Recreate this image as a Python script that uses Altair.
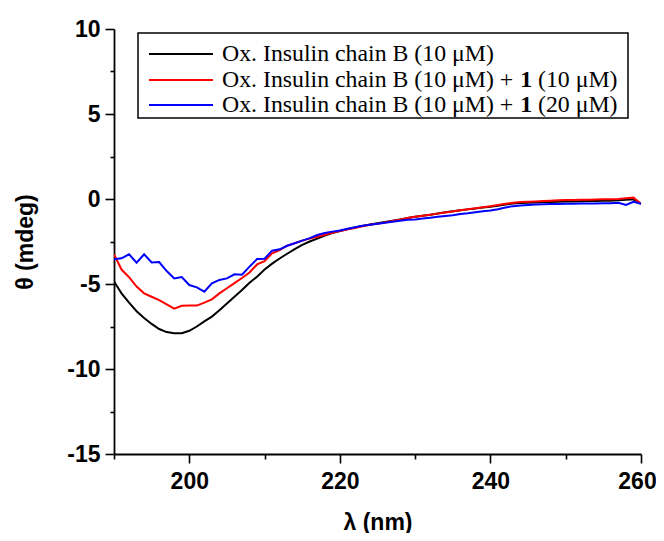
import altair as alt
import pandas as pd

# ---------------- data ----------------
wavelength = list(range(190, 261))

black = [-4.85, -5.55, -6.10, -6.60, -7.00, -7.35, -7.65, -7.83, -7.90, -7.90,
         -7.75, -7.50, -7.20, -6.92, -6.55, -6.15, -5.75, -5.35, -4.93, -4.57,
         -4.15, -3.80, -3.50, -3.22, -2.95, -2.70, -2.50, -2.33, -2.15, -2.00,
         -1.88, -1.78, -1.68, -1.58, -1.50, -1.42, -1.35, -1.28, -1.20, -1.12,
         -1.05, -0.98, -0.92, -0.85, -0.78, -0.72, -0.66, -0.61, -0.56, -0.50,
         -0.45, -0.40, -0.33, -0.27, -0.24, -0.22, -0.20, -0.18, -0.17, -0.16,
         -0.15, -0.14, -0.13, -0.12, -0.12, -0.11, -0.10, -0.08, -0.05, -0.02,
         -0.28]

red = [-3.25, -4.15, -4.60, -5.15, -5.55, -5.75, -5.95, -6.20, -6.45, -6.28,
       -6.27, -6.27, -6.10, -5.90, -5.55, -5.25, -4.95, -4.65, -4.32, -3.85,
       -3.65, -3.20, -3.00, -2.75, -2.60, -2.45, -2.33, -2.22, -2.10, -1.98,
       -1.88, -1.78, -1.70, -1.60, -1.52, -1.45, -1.38, -1.30, -1.22, -1.12,
       -1.05, -0.98, -0.92, -0.86, -0.80, -0.73, -0.66, -0.60, -0.55, -0.48,
       -0.42, -0.35, -0.28, -0.22, -0.18, -0.16, -0.14, -0.12, -0.10, -0.08,
       -0.06, -0.06, -0.05, -0.04, -0.03, -0.02, -0.01, 0.00, 0.05, 0.08,
       -0.28]

blue = [-3.55, -3.49, -3.25, -3.75, -3.25, -3.73, -3.71, -4.24, -4.67, -4.59,
        -5.06, -5.20, -5.45, -4.96, -4.76, -4.67, -4.43, -4.45, -3.98, -3.53,
        -3.51, -3.04, -2.96, -2.75, -2.60, -2.45, -2.30, -2.12, -2.00, -1.92,
        -1.85, -1.75, -1.66, -1.58, -1.52, -1.46, -1.40, -1.34, -1.28, -1.22,
        -1.20, -1.15, -1.10, -1.05, -1.00, -0.95, -0.88, -0.84, -0.78, -0.72,
        -0.67, -0.60, -0.50, -0.42, -0.38, -0.35, -0.33, -0.31, -0.30, -0.29,
        -0.28, -0.28, -0.27, -0.27, -0.26, -0.25, -0.25, -0.22, -0.35, -0.16,
        -0.28]

series_names = ["black", "red", "blue"]
series_colors = ["#000000", "#ff0000", "#0000ff"]

legend_prefix = "Ox. Insulin chain B (10 μM)"
legend_plus = "Ox. Insulin chain B (10 μM) +"
legend_bold = "1"
legend_suffix = ["(10 μM)", "(20 μM)"]

x_ticks = [190, 200, 210, 220, 230, 240, 250, 260]
y_ticks = [-15, -12.5, -10, -7.5, -5, -2.5, 0, 2.5, 5, 7.5, 10]

rows = []
for name, vals in zip(series_names, [black, red, blue]):
    for w, v in zip(wavelength, vals):
        rows.append({"wl": w, "theta": v, "series": name})
df = pd.DataFrame(rows)

W, H = 527, 425
LABEL_FONT = "Liberation Sans"
SERIF = "Liberation Serif"
FS = 23
LFS = 23.8

x_scale = alt.Scale(domain=[190, 260], nice=False, zero=False)
y_scale = alt.Scale(domain=[-15, 10], nice=False, zero=False)

x_axis = alt.Axis(
    values=x_ticks,
    labelExpr="datum.value % 20 === 0 ? '' + datum.value : ''",
    tickSize={"condition": {"test": "datum.value % 20 === 0", "value": 9}, "value": 5},
    labelOffset={"condition": {"test": "datum.value === 260", "value": -4}, "value": 0},
    labelPadding=7,
    labelFont=LABEL_FONT, labelFontSize=FS, labelFontWeight="bold", labelColor="#000",
    labelFlush=False, labelOverlap=False,
    title="λ (nm)", titleFont=LABEL_FONT, titleFontSize=FS, titleFontWeight="bold",
    titleColor="#000", titleX=W / 2, titleY=68, titleAlign="center", titleBaseline="middle",
    grid=False, domainColor="#000", domainWidth=1.8, tickColor="#000", tickWidth=1.6,
)
y_axis = alt.Axis(
    values=y_ticks,
    labelExpr="datum.value % 5 === 0 ? '' + datum.value : ''",
    tickSize={"condition": {"test": "datum.value % 5 === 0", "value": 9}, "value": 4},
    labelPadding=5,
    labelFont=LABEL_FONT, labelFontSize=FS, labelFontWeight="bold", labelColor="#000",
    labelFlush=False, labelOverlap=False,
    title="θ (mdeg)", titleFont=LABEL_FONT, titleFontSize=FS, titleFontWeight="bold",
    titleColor="#000", titleX=-89, titleY=H / 2, titleAngle=270,
    titleAlign="center", titleBaseline="middle",
    grid=False, domainColor="#000", domainWidth=1.8, tickColor="#000", tickWidth=1.6,
)

layers = []
for name, col in zip(series_names, series_colors):
    layers.append(
        alt.Chart(df).transform_filter(alt.datum.series == name)
        .mark_line(color=col, strokeWidth=2, clip=True)
        .encode(
            x=alt.X("wl:Q", scale=x_scale, axis=x_axis),
            y=alt.Y("theta:Q", scale=y_scale, axis=y_axis),
        )
    )

one = pd.DataFrame({"k": [0]})

# legend box
layers.append(
    alt.Chart(one).mark_rect(fill="white", stroke="#000", strokeWidth=1.5)
    .encode(x=alt.value(24), x2=alt.value(514), y=alt.value(4), y2=alt.value(89))
)

row_y = [25, 51, 76]
for i, col in enumerate(series_colors):
    layers.append(
        alt.Chart(one).mark_rule(color=col, strokeWidth=2)
        .encode(x=alt.value(35), x2=alt.value(99), y=alt.value(row_y[i]))
    )

text_common = dict(align="left", baseline="middle", font=SERIF, fontSize=LFS, color="#000")
layers.append(
    alt.Chart(one).mark_text(text=legend_prefix, **text_common)
    .encode(x=alt.value(108), y=alt.value(row_y[0]))
)
em = LFS / 1000.0
plus_w = (11464 + 250 + 564) * em
bold_x = 108 + plus_w + 250 * em
suffix_x = bold_x + 500 * em + 250 * em
for j in range(2):
    yy = row_y[j + 1]
    layers.append(
        alt.Chart(one).mark_text(text=legend_plus, **text_common)
        .encode(x=alt.value(108), y=alt.value(yy))
    )
    layers.append(
        alt.Chart(one).mark_text(text=legend_bold, fontWeight="bold", align="left",
                                 baseline="middle", font=SERIF, fontSize=LFS, color="#000")
        .encode(x=alt.value(bold_x), y=alt.value(yy))
    )
    layers.append(
        alt.Chart(one).mark_text(text=legend_suffix[j], **text_common)
        .encode(x=alt.value(suffix_x), y=alt.value(yy))
    )

chart = (
    alt.layer(*layers)
    .properties(
        width=W, height=H,
        autosize=alt.AutoSizeParams(type="none"),
        padding={"left": 106, "top": 21, "right": 15, "bottom": 79},
        background="white",
    )
    .configure_view(stroke=None)
)

chart.save("out.html", embed_options={"renderer": "svg", "actions": False})
